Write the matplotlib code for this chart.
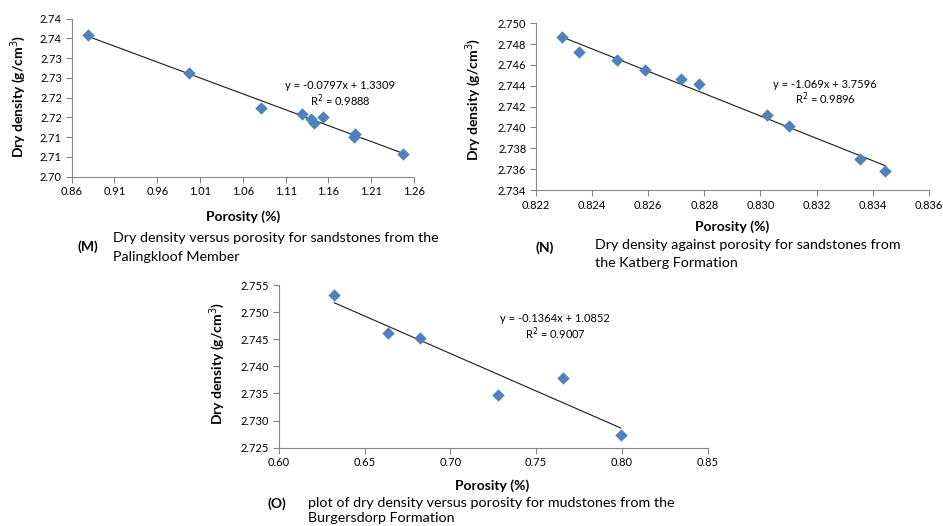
import numpy as np
import matplotlib
matplotlib.use("Agg")
import matplotlib.pyplot as plt

plt.rcParams['font.family'] = ['Lato', 'DejaVu Sans']

# ---- Data ----
m_porosity = [0.8787, 0.9974, 1.0810, 1.1296, 1.1402, 1.1429, 1.1538, 1.1915, 1.1900, 1.2472]
m_density = [2.7358, 2.7262, 2.7175, 2.7159, 2.7146, 2.7137, 2.7152, 2.7107, 2.7100, 2.7057]
m_yticks = [2.700, 2.705, 2.710, 2.715, 2.720, 2.725, 2.730, 2.735, 2.740]
m_yticklabels = ["2.70", "2.71", "2.71", "2.72", "2.72", "2.73", "2.73", "2.74", "2.74"]
m_xticks = [0.86, 0.91, 0.96, 1.01, 1.06, 1.11, 1.16, 1.21, 1.26]
m_eq = ["y = -0.0797x + 1.3309", "R$^2$ = 0.9888"]

n_porosity = [0.82292, 0.82353, 0.82489, 0.82590, 0.82716, 0.82782, 0.83022, 0.83102, 0.83355, 0.83444]
n_density = [2.74866, 2.74725, 2.74645, 2.74555, 2.74466, 2.74414, 2.74120, 2.74018, 2.73700, 2.73586]
n_yticks = [2.734, 2.736, 2.738, 2.740, 2.742, 2.744, 2.746, 2.748, 2.750]
n_xticks = [0.822, 0.824, 0.826, 0.828, 0.830, 0.832, 0.834, 0.836]
n_eq = ["y = -1.069x + 3.7596", "R$^2$ = 0.9896"]

o_porosity = [0.6324, 0.6635, 0.6826, 0.7276, 0.7657, 0.7993]
o_density = [2.7531, 2.7462, 2.7453, 2.7347, 2.7378, 2.7273]
o_yticks = [2.725, 2.730, 2.735, 2.740, 2.745, 2.750, 2.755]
o_xticks = [0.60, 0.65, 0.70, 0.75, 0.80, 0.85]
o_eq = ["y = -0.1364x + 1.0852", "R$^2$ = 0.9007"]

captions = {
    "M": ["Dry density versus porosity for sandstones from the", "Palingkloof Member"],
    "N": ["Dry density against porosity for sandstones from", "the Katberg Formation"],
    "O": ["plot of dry density versus porosity for mudstones from the", "Burgersdorp Formation"],
}

W, H = 943, 526
fig = plt.figure(figsize=(W / 100, H / 100), dpi=100)

def px(x, y):
    return x / W, 1 - y / H

def make_axes(l, t, r, b):
    x0, y0 = px(l, b)
    x1, y1 = px(r, t)
    return fig.add_axes([x0, y0, x1 - x0, y1 - y0])

blue = "#4F81BD"
gray = "#868686"

def style(ax, xt, yt, xfmt, yfmt, ylabels=None):
    for s in ["top", "right"]:
        ax.spines[s].set_visible(False)
    for s in ["left", "bottom"]:
        ax.spines[s].set_color(gray)
        ax.spines[s].set_linewidth(0.8)
    ax.set_xticks(xt)
    ax.set_xticklabels([xfmt % v for v in xt])
    ax.set_yticks(yt)
    ax.set_yticklabels(ylabels if ylabels else [yfmt % v for v in yt])
    ax.set_xlim(xt[0], xt[-1])
    ax.set_ylim(yt[0], yt[-1])
    ax.tick_params(direction="out", length=4, width=0.8, color=gray, labelsize=8, pad=3)

def panel(ax, x, y, eq, eqpos):
    x = np.array(x); y = np.array(y)
    k, c = np.polyfit(x, y, 1)
    xs = np.array([x.min(), x.max()])
    ax.plot(xs, k * xs + c, color="#1a1a1a", lw=0.8, zorder=2)
    ax.scatter(x, y, marker="D", s=40, color=blue, zorder=3, linewidths=0, clip_on=False)
    fx, fy = eqpos
    fig.text(*px(fx, fy), eq[0], ha="center", va="center", fontsize=8)
    fig.text(*px(fx, fy + 15), eq[1], ha="center", va="center", fontsize=8)

# Panel M
axM = make_axes(71.7, 18.7, 414, 176.7)
style(axM, m_xticks, m_yticks, "%.2f", None, m_yticklabels)
panel(axM, m_porosity, m_density, m_eq, (340, 85.7))
fig.text(*px(243, 217), "Porosity (%)", ha="center", va="center", fontsize=10, fontweight="bold")
fig.text(*px(18, 97), "Dry density (g/cm$^3$)", ha="center", va="center", rotation=90, fontsize=10, fontweight="bold")

# Panel N
axN = make_axes(536, 23.3, 928.7, 190)
style(axN, n_xticks, n_yticks, "%.3f", "%.3f")
panel(axN, n_porosity, n_density, n_eq, (825, 84))
fig.text(*px(731.7, 227), "Porosity (%)", ha="center", va="center", fontsize=10, fontweight="bold")
fig.text(*px(472.7, 100), "Dry density (g/cm$^3$)", ha="center", va="center", rotation=90, fontsize=10, fontweight="bold")

# Panel O
axO = make_axes(278.7, 285, 707.7, 447.7)
style(axO, o_xticks, o_yticks, "%.2f", "%.3f")
panel(axO, o_porosity, o_density, o_eq, (555, 318.3))
fig.text(*px(491.7, 486), "Porosity (%)", ha="center", va="center", fontsize=10, fontweight="bold")
fig.text(*px(216.7, 364), "Dry density (g/cm$^3$)", ha="center", va="center", rotation=90, fontsize=10, fontweight="bold")

# Captions
def caption(label, lx, ly, tx, ty1, ty2, lines):
    fig.text(*px(lx, ly), "(%s)" % label, ha="left", va="center", fontsize=10, fontweight="bold")
    fig.text(*px(tx, ty1), lines[0], ha="left", va="center", fontsize=10.3)
    fig.text(*px(tx, ty2), lines[1], ha="left", va="center", fontsize=10.3)

caption("M", 77, 246.7, 113, 238.3, 256.7, captions["M"])
caption("N", 536, 248, 595, 245, 263, captions["N"])
caption("O", 268, 504, 308, 503, 518, captions["O"])

fig.savefig("out.png", dpi=100)
